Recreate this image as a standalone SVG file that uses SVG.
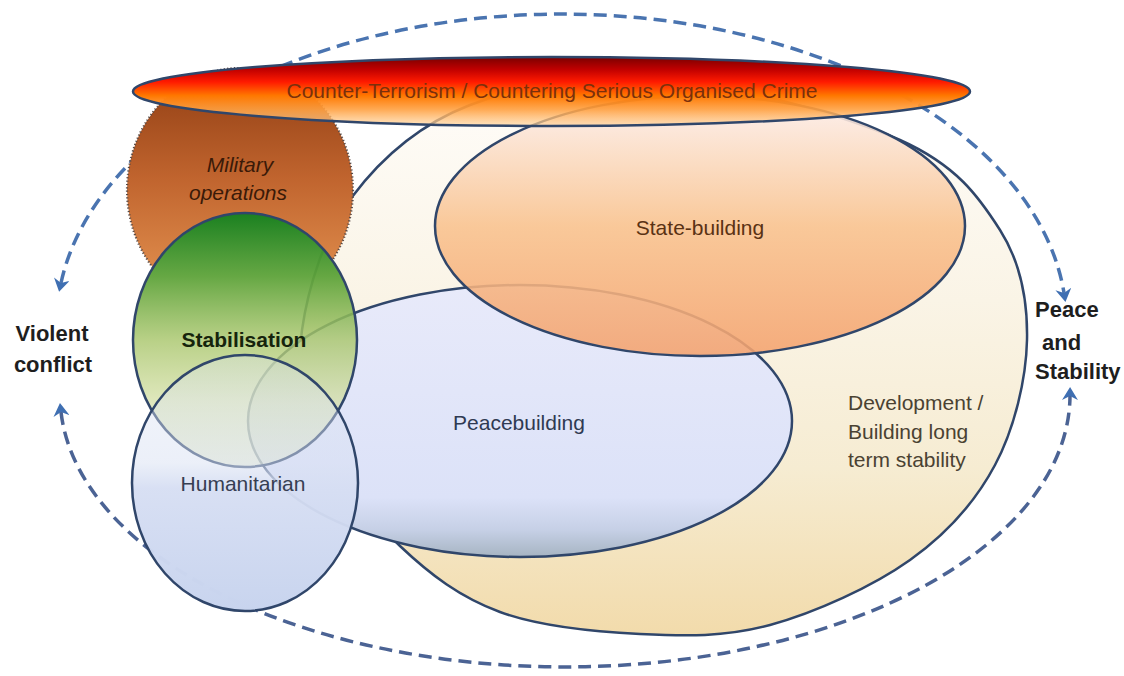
<svg xmlns="http://www.w3.org/2000/svg" width="1124" height="676" viewBox="0 0 1124 676">
  <defs>
    <style>
      .lbl { font-family: "Liberation Sans", Arial, sans-serif; font-size: 21px; }
      .bold { font-weight: bold; font-size: 22px; fill: #1e1e1e; }
      .outline { stroke: #30466a; stroke-width: 2.5; }
      .flow { fill: none; stroke-width: 3.5; stroke-dasharray: 13 7; }
    </style>
    <marker id="arrow" viewBox="0 0 13 16" refX="4" refY="8" markerWidth="13" markerHeight="16" markerUnits="userSpaceOnUse" orient="auto-start-reverse">
      <path d="M0,0 L13,8 L0,16 L4,8 Z" fill="#3f6fb2"/>
    </marker>
    <!-- everything outside the Stabilisation ellipse -->
    <clipPath id="outsideStab">
      <path clip-rule="evenodd" d="M0,0 H1124 V676 H0 Z M133,340 A112,127 0 1,0 357,340 A112,127 0 1,0 133,340 Z"/>
    </clipPath>
    <linearGradient id="devGrad" x1="0" y1="0" x2="0" y2="1">
      <stop offset="0" stop-color="#fffdfa"/>
      <stop offset="0.4" stop-color="#faf4e6"/>
      <stop offset="0.7" stop-color="#f6ecd2"/>
      <stop offset="1" stop-color="#f2dbab"/>
    </linearGradient>
    <linearGradient id="pbGrad" x1="0" y1="0" x2="0" y2="1">
      <stop offset="0" stop-color="#e8eafa"/>
      <stop offset="0.78" stop-color="#dce2f8"/>
      <stop offset="0.9" stop-color="#c6d0e6"/>
      <stop offset="1" stop-color="#a6b4c2"/>
    </linearGradient>
    <linearGradient id="sbGrad" x1="0" y1="0" x2="0" y2="1">
      <stop offset="0" stop-color="#fdf0f0"/>
      <stop offset="0.22" stop-color="#fbdcc4"/>
      <stop offset="0.5" stop-color="#f9c28e"/>
      <stop offset="1" stop-color="#f4a26e"/>
    </linearGradient>
    <linearGradient id="milGrad" x1="0" y1="0" x2="0" y2="1">
      <stop offset="0" stop-color="#8e3c12"/>
      <stop offset="0.45" stop-color="#c0642e"/>
      <stop offset="1" stop-color="#ea9a56"/>
    </linearGradient>
    <linearGradient id="ctGrad" x1="0" y1="0" x2="0" y2="1">
      <stop offset="0" stop-color="#7a0000"/>
      <stop offset="0.18" stop-color="#c00000"/>
      <stop offset="0.36" stop-color="#ff1a00"/>
      <stop offset="0.56" stop-color="#ff7800"/>
      <stop offset="0.76" stop-color="#ffa040" stop-opacity="0.9"/>
      <stop offset="1" stop-color="#ffd6a0" stop-opacity="0.65"/>
    </linearGradient>
    <linearGradient id="stabGrad" x1="0" y1="0" x2="0" y2="1">
      <stop offset="0" stop-color="#1a8020"/>
      <stop offset="0.25" stop-color="#5ea33a" stop-opacity="0.95"/>
      <stop offset="0.5" stop-color="#a9c66c" stop-opacity="0.82"/>
      <stop offset="0.75" stop-color="#d4dfa4" stop-opacity="0.72"/>
      <stop offset="1" stop-color="#e6ebc8" stop-opacity="0.62"/>
    </linearGradient>
    <linearGradient id="humGrad" x1="0" y1="0" x2="0" y2="1">
      <stop offset="0" stop-color="#dfe6f4" stop-opacity="0.35"/>
      <stop offset="0.42" stop-color="#d8e0f2" stop-opacity="0.5"/>
      <stop offset="0.52" stop-color="#d6def3" stop-opacity="0.95"/>
      <stop offset="1" stop-color="#c8d4ee"/>
    </linearGradient>
  </defs>

  <rect width="1124" height="676" fill="#ffffff"/>

  <!-- cycle arrows between the two end states -->
  <g id="connectors">
    <path class="flow" stroke="#4a74b0" d="M 61 283 A 505 310 0 0 1 1064 293" marker-start="url(#arrow)" marker-end="url(#arrow)"/>
    <path class="flow" stroke="#4b6394" d="M 61 412 A 505 272 0 0 0 1070 396" marker-start="url(#arrow)" marker-end="url(#arrow)"/>
  </g>

  <g id="development">
    <path class="outline" fill="url(#devGrad)" d="M660,78 C731.7,83.8 843.3,114.7 900,140 C956.7,165.3 978.8,196.7 1000,230 C1021.2,263.3 1027.8,300.8 1027,340 C1026.2,379.2 1014.5,428.3 995,465 C975.5,501.7 947.5,533.3 910,560 C872.5,586.7 815,612.7 770,625 C725,637.3 685,636.2 640,634 C595,631.8 540,626.7 500,612 C460,597.3 430.3,574.7 400,546 C369.7,517.3 334.3,476 318,440 C301.7,404 296.3,370.5 302,330 C307.7,289.5 324,234.5 352,197 C380,159.5 418.7,124.8 470,105 C521.3,85.2 588.3,72.2 660,78 Z"/>
    <text class="lbl" x="848" y="410" fill="#4a4232">Development /</text>
    <text class="lbl" x="848" y="439" fill="#4a4232">Building long</text>
    <text class="lbl" x="848" y="467" fill="#4a4232">term stability</text>
  </g>

  <g id="peacebuilding">
    <ellipse class="outline" cx="520" cy="421" rx="272" ry="136" fill="url(#pbGrad)"/>
    <text class="lbl" x="519" y="430" text-anchor="middle" fill="#2f3a52">Peacebuilding</text>
  </g>

  <g id="state-building">
    <ellipse class="outline" cx="700" cy="226" rx="265" ry="130" fill="url(#sbGrad)" fill-opacity="0.88"/>
    <text class="lbl" x="700" y="235" text-anchor="middle" fill="#5a3214">State-building</text>
  </g>

  <g id="military-operations" clip-path="url(#outsideStab)">
    <ellipse cx="240" cy="190" rx="113" ry="122" fill="url(#milGrad)" stroke="#5a4a44" stroke-width="2.2" stroke-dasharray="1.2 2.2"/>
    <text class="lbl" x="240" y="172" text-anchor="middle" font-style="italic" fill="#3a1a08">Military</text>
    <text class="lbl" x="238" y="200" text-anchor="middle" font-style="italic" fill="#3a1a08">operations</text>
  </g>

  <g id="counter-terrorism">
    <ellipse class="outline" cx="551.5" cy="91.5" rx="418.5" ry="34.5" fill="url(#ctGrad)"/>
    <text class="lbl" x="552" y="98" text-anchor="middle" fill="#7a300c">Counter-Terrorism / Countering Serious Organised Crime</text>
  </g>

  <g id="stabilisation">
    <ellipse class="outline" cx="245" cy="340" rx="112" ry="127" fill="url(#stabGrad)"/>
    <text class="lbl" x="244" y="347" text-anchor="middle" font-weight="bold" font-size="20.5" fill="#16240c">Stabilisation</text>
  </g>

  <g id="humanitarian">
    <ellipse class="outline" cx="245" cy="483" rx="113" ry="128" fill="url(#humGrad)"/>
    <text class="lbl" x="243" y="491" text-anchor="middle" fill="#363e52">Humanitarian</text>
  </g>

  <g id="violent-conflict">
    <text class="lbl bold" x="52" y="341" text-anchor="middle">Violent</text>
    <text class="lbl bold" x="53" y="372" text-anchor="middle">conflict</text>
  </g>

  <g id="peace-and-stability">
    <text class="lbl bold" x="1035" y="317">Peace</text>
    <text class="lbl bold" x="1042" y="350">and</text>
    <text class="lbl bold" x="1035" y="379">Stability</text>
  </g>
</svg>
